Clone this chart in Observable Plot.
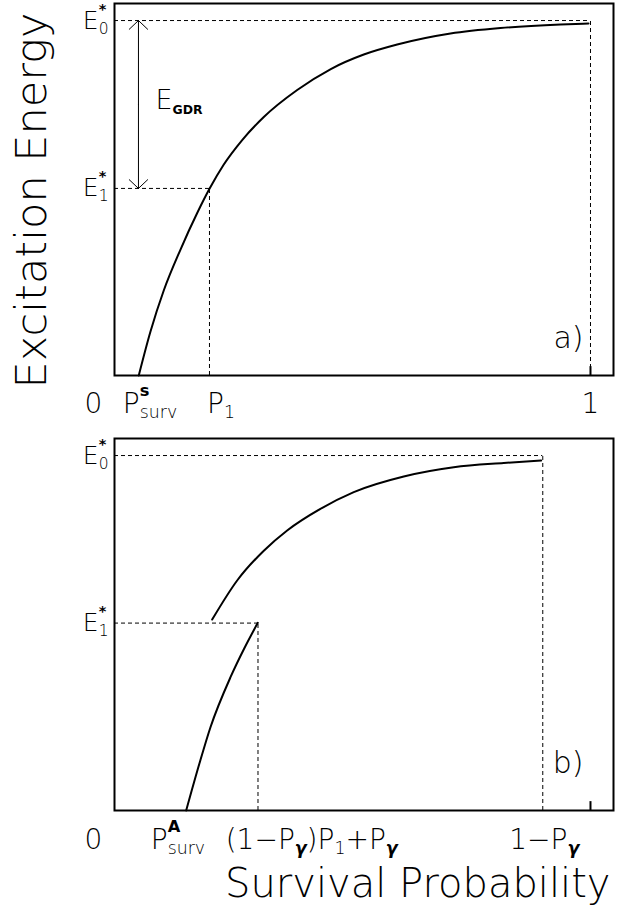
<!DOCTYPE html>
<html><head><meta charset="utf-8">
<script src="https://cdn.jsdelivr.net/npm/d3@7"></script>
<script src="https://cdn.jsdelivr.net/npm/@observablehq/plot@0.6"></script>
<style>
html,body{margin:0;padding:0;background:#fff;}
#chart svg{display:block;}
</style></head>
<body><div id="chart"></div>
<script>
// ---- data (E*0 = 1 on the energy axis, probability on the x axis) ----
const curveA_x = [0.0911, 0.1147, 0.1414, 0.1751, 0.2087, 0.2334, 0.2622, 0.2992, 0.3427, 0.4099, 0.4775, 0.5439, 0.6111, 0.7183, 0.8189, 0.9396, 0.996];
const curveA_y = [0, 0.1239, 0.2394, 0.3549, 0.4577, 0.5259, 0.5944, 0.6634, 0.7282, 0.8042, 0.8634, 0.9042, 0.9324, 0.9634, 0.9789, 0.9887, 0.9915];
const curveB1_x = [0.1865, 0.2133, 0.2354, 0.2757, 0.3038, 0.3306];
const curveB1_y = [0, 0.133, 0.2346, 0.3755, 0.4577, 0.5287];
const curveB2_x = [0.2388, 0.2891, 0.3427, 0.3897, 0.4567, 0.5237, 0.6243, 0.7249, 0.8255, 0.9008];
const curveB2_y = [0.538, 0.648, 0.732, 0.789, 0.850, 0.897, 0.941, 0.967, 0.979, 0.986];
const guidesA = [{x: 1, y: 1}, {x: 0.2334, y: 0.527}];
const guidesB = [{x: 0.904, y: 1}, {x: 0.331, y: 0.528}];
const yLabelsA = [{y: 1, label: "E^{*}_{0}"}, {y: 0.527, label: "E^{*}_{1}"}];
const yLabelsB = [{y: 1, label: "E^{*}_{0}"}, {y: 0.528, label: "E^{*}_{1}"}];
const xLabelsA = [{x: 0, label: "0"}, {x: 0.1137, label: "P^{s}_{surv}"}, {x: 0.2565, label: "P_{1}"}, {x: 1, label: "1"}];
const xLabelsB = [{x: 0, label: "0"}, {x: 0.170, label: "P^{A}_{surv}"}, {x: 0.439, label: "(1\u2212P_{\u03b3})P_{1}+P_{\u03b3}"}, {x: 0.907, label: "1\u2212P_{\u03b3}"}];
const xTicks = [1];
const gdrArrow = [{x: 0.0905, y1: 0.527, y2: 1}];
const gdrLabel = [{x: 0.1247, y: 0.775, label: "E_b{GDR}"}];
const yTitle = "Excitation Energy";
const xTitle = "Survival Probability";
const panelTags = ["a)", "b)"];

const xDomain = [0.0423, 1.0463];
const yDomain = [0, 1.048];
const FONT = "DejaVu Sans";
const pts = (xs, ys) => xs.map((x, i) => ({x, y: ys[i]}));

function panelMarks(curves, guides, yLabels, xLabels, tag, tagDy, tickDy) {
  return [
    Plot.frame({strokeWidth: 2}),
    Plot.ruleY(guides, {y: "y", x1: xDomain[0], x2: "x", strokeDasharray: "4,3", strokeWidth: 1}),
    Plot.ruleX(guides, {x: "x", y1: 0, y2: "y", strokeDasharray: "4,3", strokeWidth: 1}),
    Plot.ruleX(xTicks, {x: d => d, y1: 0, y2: 0.025, strokeWidth: 2}),
    ...curves.map(c => Plot.line(c, {x: "x", y: "y", curve: "monotone-x", strokeWidth: 2})),
    Plot.text(yLabels, {y: "y", text: "label", frameAnchor: "left", textAnchor: "end", dx: -6, fontSize: 25, fontWeight: 300}),
    Plot.text(xLabels, {x: "x", y: yDomain[0], text: "label", lineAnchor: "bottom", dy: tickDy, fontSize: 28, fontWeight: 300}),
    Plot.text([tag], {frameAnchor: "bottom-right", textAnchor: "end", lineAnchor: "bottom", dx: -30, dy: tagDy, fontSize: 30, fontWeight: 300})
  ];
}

const plotA = Plot.plot({
  width: 639, height: 420,
  marginLeft: 114, marginRight: 26, marginTop: 3, marginBottom: 45,
  x: {domain: xDomain, axis: null},
  y: {domain: yDomain, axis: null},
  style: {fontFamily: FONT, background: "#fff", color: "#000", overflow: "visible"},
  marks: [
    ...panelMarks([pts(curveA_x, curveA_y)], guidesA, yLabelsA, xLabelsA, panelTags[0], -28, 37),
    Plot.arrow(gdrArrow, {x1: "x", x2: "x", y1: d => (d.y1 + d.y2) / 2, y2: "y2", headAngle: 93, headLength: 19, strokeWidth: 1}),
    Plot.arrow(gdrArrow, {x1: "x", x2: "x", y1: d => (d.y1 + d.y2) / 2, y2: "y1", headAngle: 93, headLength: 19, strokeWidth: 1}),
    Plot.text(gdrLabel, {x: "x", y: "y", text: "label", textAnchor: "start", fontSize: 27, fontWeight: 300}),
    Plot.text([yTitle], {frameAnchor: "left", textAnchor: "middle", rotate: -90, lineAnchor: "bottom", dx: -69, dy: 11, fontSize: 43, fontWeight: 200})
  ]
});

const plotB = Plot.plot({
  width: 639, height: 485,
  marginLeft: 114, marginRight: 26, marginTop: 18, marginBottom: 95,
  x: {domain: xDomain, axis: null},
  y: {domain: yDomain, axis: null},
  style: {fontFamily: FONT, background: "#fff", color: "#000", overflow: "visible"},
  marks: [
    ...panelMarks([pts(curveB1_x, curveB1_y), pts(curveB2_x, curveB2_y)], guidesB, yLabelsB, xLabelsB, panelTags[1], -38, 38),
    Plot.text([xTitle], {frameAnchor: "bottom-right", textAnchor: "end", lineAnchor: "bottom", dx: -3, dy: 86, fontSize: 40, fontWeight: 200})
  ]
});

const root = document.getElementById("chart");
root.appendChild(plotA);
root.appendChild(plotB);

// Turn ^{..} / _{..} markup into real superscript / subscript tspans
function richify(svg) {
  const NS = "http://www.w3.org/2000/svg";
  svg.querySelectorAll("text").forEach(t => {
    const s = t.textContent;
    if (!/[\^_]b?\{/.test(s)) return;
    const base = parseFloat(getComputedStyle(t).fontSize);
    t.textContent = "";
    const re = /([\^_])(b?)\{([^}]*)\}|([^\^_]+)/g;
    let m, shift = 0, prev = null;
    while ((m = re.exec(s))) {
      const ts = document.createElementNS(NS, "tspan");
      let target;
      if (m[4] !== undefined) {
        target = 0; ts.textContent = m[4];
      } else {
        const sup = m[1] === "^";
        target = sup ? -0.6 * base : 0.2 * base;
        const size = (m[2] ? 0.46 : sup ? 0.58 : 0.62) * base;
        ts.textContent = m[3];
        ts.setAttribute("font-size", size);
        if (sup || m[2]) ts.setAttribute("font-weight", "bold");
        if (/\u03b3/.test(m[3])) { ts.setAttribute("font-style", "italic"); ts.setAttribute("font-weight", "bold"); }
      }
      ts.setAttribute("dy", target - shift);
      shift = target;
      t.appendChild(ts);
      if (m[4] === undefined) {
        if (prev && prev.kind !== m[1]) {
          ts.setAttribute("dx", -prev.el.getComputedTextLength());
          prev = null;
        } else prev = {el: ts, kind: m[1]};
      } else prev = null;
    }
  });
}
richify(plotA);
richify(plotB);
</script>
</body></html>
